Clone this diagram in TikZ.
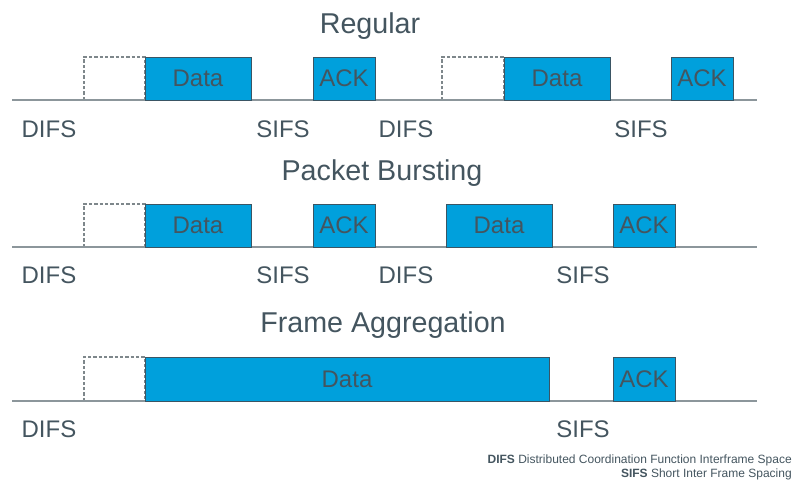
\documentclass[tikz,border=0pt]{standalone}
\usepackage{fontspec}
\setmainfont{Liberation Sans}
\usepackage{tikz}
\usetikzlibrary{positioning}
\definecolor{boxblue}{HTML}{00A0DC}
\definecolor{boxedge}{HTML}{3A5564}
\definecolor{txtgray}{HTML}{44555F}
\definecolor{linegray}{HTML}{8C969B}

\begin{document}
\begin{tikzpicture}[
x=0.75pt, y=-0.75pt,
DataBox/.style={draw=boxedge,fill=boxblue,line width=0.7pt},
WaitBox/.style={draw=linegray!90!black,dash pattern=on 2.4pt off 1.6pt,line width=0.8pt},
TimeLine/.style={draw=linegray,line width=1.1pt},
Label/.style={text=txtgray,font=\fontsize{18}{20}\selectfont},
Title/.style={text=txtgray,font=\fontsize{21.5}{24}\selectfont,anchor=base},
Legend/.style={text=txtgray,font=\fontsize{9}{10}\selectfont,anchor=base east,inner xsep=0pt}
]
\useasboundingbox (0,0) rectangle (796,479);

% Regular
\node[Title] (t1) at (370,33) {Regular};
\draw[WaitBox] (84,100) rectangle (145,57);
\draw[WaitBox] (442,100) rectangle (504,57);
\draw[TimeLine] (12,100)--(757,100);
\draw[DataBox] (145,57) rectangle (251,100) node[midway,Label] (d11) {Data};
\draw[DataBox] (313,57) rectangle (375,100) node[midway,Label] (a11) {ACK};
\draw[DataBox] (504,57) rectangle (610,100) node[midway,Label] (d12) {Data};
\draw[DataBox] (671,57) rectangle (733,100) node[midway,Label] (a12) {ACK};
\node[Label] (l11) at (49,129) {DIFS};
\node[Label] (l12) at (283,129) {SIFS};
\node[Label] (l13) at (406,129) {DIFS};
\node[Label] (l14) at (641,129) {SIFS};

% Packet Bursting
\node[Title] (t2) at (382,180) {Packet Bursting};
\draw[WaitBox] (84,247) rectangle (145,204);
\draw[TimeLine] (12,247)--(757,247);
\draw[DataBox] (145,204) rectangle (251,247) node[midway,Label] (d21) {Data};
\draw[DataBox] (313,204) rectangle (375,247) node[midway,Label] (a21) {ACK};
\draw[DataBox] (446,204) rectangle (552,247) node[midway,Label] (d22) {Data};
\draw[DataBox] (613,204) rectangle (675,247) node[midway,Label] (a22) {ACK};
\node[Label] (l21) at (49,275) {DIFS};
\node[Label] (l22) at (283,275) {SIFS};
\node[Label] (l23) at (406,275) {DIFS};
\node[Label] (l24) at (583,275) {SIFS};

% Frame Aggregation
\node[Title] (t3) at (383,332) {Frame Aggregation};
\draw[WaitBox] (84,401) rectangle (145,357);
\draw[TimeLine] (12,401)--(757,401);
\draw[DataBox] (145,357) rectangle (549,401) node[midway,Label] (d31) {Data};
\draw[DataBox] (613,357) rectangle (675,401) node[midway,Label] (a31) {ACK};
\node[Label] (l31) at (49,429) {DIFS};
\node[Label] (l32) at (583,429) {SIFS};

\node[Legend] (g1) at (792,463) {\textbf{DIFS} Distributed Coordination Function Interframe Space};
\node[Legend] (g2) at (792,477) {\textbf{SIFS} Short Inter Frame Spacing};

\end{tikzpicture}
\end{document}
